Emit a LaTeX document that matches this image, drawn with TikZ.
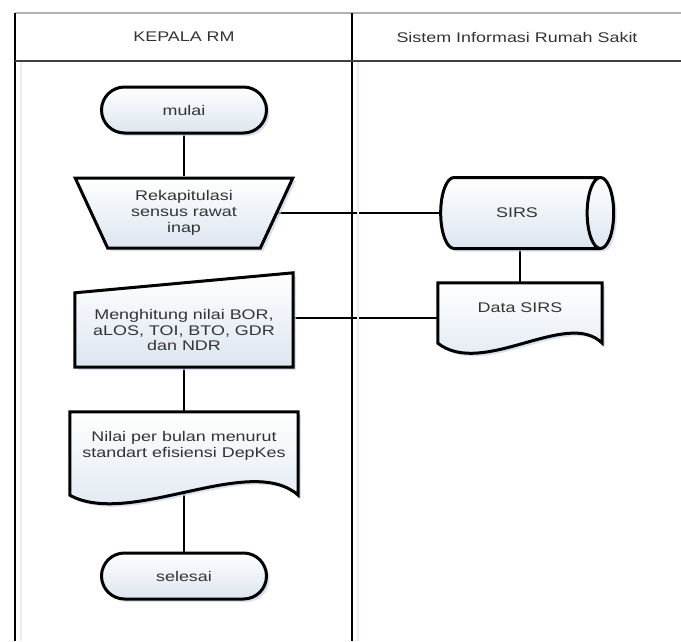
\documentclass[tikz,border=0pt]{standalone}
\usepackage{fontspec}
\setmainfont[FakeStretch=1.28]{Liberation Sans}
\usetikzlibrary{calc, positioning, shapes.geometric, shadows, backgrounds}
\definecolor{boxblue}{RGB}{220,229,240}
\definecolor{shadowblue}{RGB}{200,212,230}

\begin{document}
\begin{tikzpicture}[x=1pt, y=-1pt,
    font=\fontsize{14}{15.7}\selectfont, text=black!80,
    shadebox/.style={top color=white, bottom color=boxblue},
    shadowed/.style={drop shadow={shadow xshift=3pt, shadow yshift=-3pt, fill=shadowblue, opacity=0.7}},
    outline/.style={draw, line width=3pt, line join=miter, shadebox, shadowed},
    terminal/.style={outline, rectangle, rounded corners=23pt, minimum width=165pt, minimum height=46pt},
    link/.style={line width=1.8pt}]
    \useasboundingbox (0,0) rectangle (681,641);

    % Swimlane frame: two lanes, header row on top
    \draw[blue!8, line width=2pt] (21,61) -- (21,641);
    \draw[blue!8, line width=2pt] (358,61) -- (358,641);
    \draw[gray!60, line width=2.5pt] (15,13) -- (681,13);
    \draw[line width=2.5pt] (15,13) -- (15,641);
    \draw[line width=2.8pt] (352,13) -- (352,641);
    \draw[black!75, line width=2pt] (15,61) -- (681,61);
    \node (kepala) at (184,37) {KEPALA RM};
    \node (sistem) at (517,37) {Sistem Informasi Rumah Sakit};

    % KEPALA RM lane (left)
    \node[terminal] (mulai) at (184,110) {mulai};
    \node[outline, trapezium, shape border rotate=180, trapezium left angle=65, trapezium right angle=65,
          trapezium stretches=true, minimum width=218pt, minimum height=70pt, align=center]
        (rekap) at (184,213) {Rekapitulasi\\sensus rawat\\inap};
    \node[minimum width=218pt, minimum height=74pt, align=center] (hitung) at (184,330)
        {Menghitung nilai BOR,\\aLOS, TOI, BTO, GDR\\dan NDR};
    \node[minimum width=228pt, minimum height=68pt, align=center] (nilai) at (184,446)
        {Nilai per bulan menurut\\standart efisiensi DepKes};
    \node[terminal] (selesai) at (184,576) {selesai};

    % Sistem Informasi Rumah Sakit lane (right)
    \node[outline, cylinder, aspect=1.6, minimum width=71pt, minimum height=173pt] (sirs) at (517,213) {SIRS};
    \node[minimum width=164pt, minimum height=50pt] (data) at (520,308) {Data SIRS};

    \begin{scope}[on background layer]
        % connectors first, so the shapes cover their ends
        \draw[link] (mulai) -- (rekap);
        \draw[link] (rekap) -- (sirs);
        \draw[link] (data.north |- sirs.south) -- (data.north);
        \coordinate (hitung-out) at ([yshift=12pt] hitung.east);
        \draw[link] (hitung-out) -- (hitung-out -| data.west);
        \draw[link] (hitung.south) -- (nilai.north);
        \draw[link] (nilai.south) -- (selesai);

        % manual input: top edge rises to the right
        \draw[outline] (hitung.south west) -- (hitung.north west) -- ($(hitung.north east)+(0,-20)$)
            -- (hitung.south east) -- cycle;
        % documents: wavy bottom edge
        \draw[outline] (nilai.north west) -- (nilai.north east) -- ($(nilai.south east)+(0,15)$)
            .. controls +(-48,-43) and +(60,33) .. ($(nilai.south west)+(0,15)$) -- cycle;
        \draw[outline] (data.north west) -- (data.north east) -- ($(data.south east)+(0,10)$)
            .. controls +(-35,-35) and +(45,35) .. ($(data.south west)+(0,10)$) -- cycle;
    \end{scope}
\end{tikzpicture}
\end{document}
